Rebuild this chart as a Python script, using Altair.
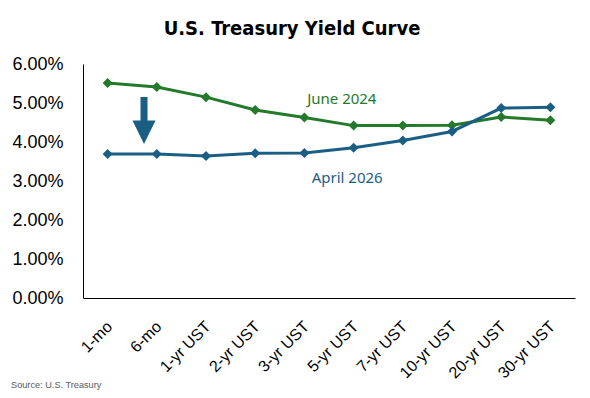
import altair as alt
import pandas as pd

tenors = ["1-mo", "6-mo", "1-yr UST", "2-yr UST", "3-yr UST", "5-yr UST",
          "7-yr UST", "10-yr UST", "20-yr UST", "30-yr UST"]
june_2024 = [5.51, 5.41, 5.15, 4.82, 4.63, 4.42, 4.42, 4.43, 4.64, 4.56]
april_2026 = [3.69, 3.69, 3.64, 3.71, 3.72, 3.85, 4.04, 4.27, 4.87, 4.89]
y_ticks = [0, 1, 2, 3, 4, 5, 6]

GREEN = "#237a2a"
BLUE = "#1b5e84"
FONT = "Liberation Sans, Arial, sans-serif"

def frame(vals, name):
    return pd.DataFrame({"i": list(range(len(tenors))), "tenor": tenors,
                         "y": [v / 100 for v in vals], "series": name})

df_j = frame(june_2024, "June 2024")
df_a = frame(april_2026, "April 2026")

label_expr = "[" + ",".join("'" + t + "'" for t in tenors) + "][datum.value]"

x_axis = alt.Axis(values=list(range(len(tenors))), labelExpr=label_expr,
                  labelAngle=-45, labelFontSize=16, labelFont=FONT,
                  labelColor="#000", ticks=False, grid=False, domainColor="#000",
                  labelPadding=20, labelOffset=-4, labelOverlap=False,
                  labelBound=False, title=None)
y_axis = alt.Axis(values=[v / 100 for v in y_ticks], format=".2%",
                  labelFontSize=18, labelFont=FONT, labelColor="#000",
                  ticks=False, grid=False, domainColor="#000",
                  labelPadding=20, labelOverlap=False, labelBound=False,
                  title=None)
x_scale = alt.Scale(domain=[-0.5, len(tenors) - 0.5], nice=False, zero=False)
y_scale = alt.Scale(domain=[0, 0.06], nice=False)

def X(field):
    return alt.X(field, scale=x_scale, axis=x_axis)

def Y(field):
    return alt.Y(field, scale=y_scale, axis=y_axis)

def series_layer(df, color):
    base = alt.Chart(df).encode(x=X("i:Q"), y=Y("y:Q"))
    line = base.mark_line(color=color, strokeWidth=3)
    pts = base.mark_point(shape="diamond", filled=True, color=color, size=100, opacity=1)
    return line + pts

# annotations
lab_df = pd.DataFrame({"i": [4.76, 4.87], "y": [0.0510, 0.0308],
                       "t": ["June 2024", "April 2026"], "c": [GREEN, BLUE]})
labels = alt.Chart(lab_df).mark_text(font="Noto Sans", fontSize=15, align="center",
                                     baseline="middle").encode(
    x=X("i:Q"), y=Y("y:Q"), text="t:N", color=alt.Color("c:N", scale=None))

arrow_df = pd.DataFrame({"i": [0.74], "y": [0.0455]})
arrow_path = "M-0.15,-1L0.15,-1L0.15,0L0.49,0L0,1L-0.49,0L-0.15,0Z"
arrow = alt.Chart(arrow_df).mark_point(shape=arrow_path, filled=True, color=BLUE,
                                       size=2209, opacity=1).encode(x=X("i:Q"), y=Y("y:Q"))

source = alt.Chart(pd.DataFrame({"s": ["Source: U.S. Treasury"]})).mark_text(
    font=FONT, fontSize=9.2, color="#595959", align="left", baseline="middle").encode(
    x=alt.value(-72), y=alt.value(87 + 234), text="s:N")

chart = alt.layer(
    series_layer(df_j, GREEN),
    series_layer(df_a, BLUE),
    arrow, labels, source
).properties(
    width=492, height=234,
    title=alt.TitleParams("U.S. Treasury Yield Curve",
                          font="Liberation Sans Narrow, DejaVu Sans Condensed, sans-serif",
                          fontSize=20, fontWeight="bold", color="#000",
                          anchor="middle", dx=-37, offset=16),
    padding={"left": 75, "top": 56, "right": 7, "bottom": 92},
    autosize=alt.AutoSizeParams(type="none"),
    background="white"
).configure_view(stroke=None).configure_axis(labelOverlap=False)

chart.save("out.html", embed_options={"renderer": "svg", "actions": False})
